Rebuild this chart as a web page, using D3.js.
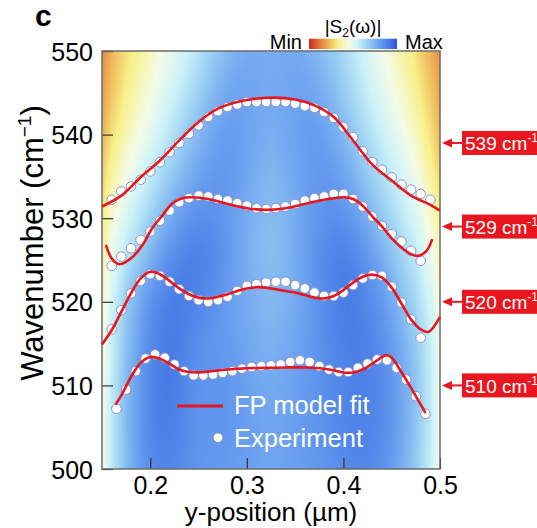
<!DOCTYPE html>
<html><head><meta charset="utf-8">
<script src="https://cdn.jsdelivr.net/npm/d3@7"></script>
<style>body{margin:0;background:#fff}svg{display:block;font-family:"Liberation Sans",Arial,sans-serif}</style>
</head><body><svg id="chart" width="537" height="528"></svg>
<script>
// ---------- data ----------
const xTicks = [0.2, 0.3, 0.4, 0.5];
const yTicks = [500, 510, 520, 530, 540, 550];
const modeLabels = [539, 529, 520, 510];

const exp539X = [0.16,0.17,0.18,0.19,0.20,0.21,0.22,0.23,0.24,0.25,0.26,0.27,0.28,0.29,0.30,0.31,0.32,0.33,0.34,0.35,0.36,0.37,0.38,0.39,0.40,0.41,0.42,0.43,0.44,0.45,0.46,0.47,0.48,0.49];
const exp539Y = [532.2,533.2,533.8,534.6,535.6,536.7,537.9,539.0,540.1,541.1,542.1,542.8,543.3,543.6,543.9,543.9,543.9,543.9,543.9,543.7,543.4,543.2,542.7,542.0,540.9,539.7,538.0,536.7,535.8,534.9,534.0,533.4,532.9,532.2];

const exp529X = [0.16,0.17,0.18,0.19,0.20,0.21,0.22,0.23,0.24,0.25,0.26,0.27,0.28,0.29,0.30,0.31,0.32,0.33,0.34,0.35,0.36,0.37,0.38,0.39,0.40,0.41,0.42,0.43,0.44,0.45,0.46,0.47,0.48];
const exp529Y = [524.3,525.4,526.4,527.4,528.4,529.7,530.9,531.9,532.4,532.7,532.6,532.3,532.1,531.8,531.5,531.2,531.1,531.2,531.4,531.7,532.1,532.4,532.6,532.9,532.9,532.3,531.4,530.2,529.1,528.1,527.2,526.1,524.9];

const exp520X = [0.16,0.17,0.18,0.19,0.20,0.21,0.22,0.23,0.24,0.25,0.26,0.27,0.28,0.29,0.30,0.31,0.32,0.33,0.34,0.35,0.36,0.37,0.38,0.39,0.40,0.41,0.42,0.43,0.44,0.45,0.46,0.47,0.48];
const exp520Y = [516.7,519.0,521.0,522.5,523.3,523.1,522.4,521.5,520.7,520.2,520.0,520.2,520.6,521.3,521.9,522.1,522.3,522.4,522.4,522.0,521.6,521.1,520.7,520.7,521.1,522.0,522.8,523.2,523.1,521.8,519.9,517.9,515.7];

const exp510X = [0.165,0.175,0.185,0.195,0.205,0.215,0.225,0.235,0.245,0.255,0.265,0.275,0.285,0.295,0.305,0.315,0.325,0.335,0.345,0.355,0.365,0.375,0.385,0.395,0.405,0.415,0.425,0.435,0.445,0.455,0.465,0.475,0.485];
const exp510Y = [507.2,509.5,511.7,513.2,513.7,513.3,512.5,511.7,511.2,511.2,511.3,511.5,511.7,512.0,512.2,512.3,512.4,512.5,512.8,513.0,512.8,512.3,511.9,511.6,511.6,512.1,512.6,513.1,513.0,512.1,510.7,508.7,506.6];

const fit539X = [0.15,0.17,0.19,0.21,0.23,0.25,0.27,0.29,0.32,0.35,0.37,0.39,0.41,0.43,0.45,0.47,0.49,0.50];
const fit539Y = [531.4,532.7,534.9,536.9,539.3,541.5,543.1,543.9,544.4,544.2,543.5,542.1,539.3,536.4,534.5,532.7,531.6,530.9];

const fit529X = [0.154,0.16,0.168,0.182,0.192,0.202,0.213,0.223,0.233,0.244,0.26,0.28,0.30,0.32,0.34,0.36,0.38,0.40,0.41,0.42,0.43,0.44,0.45,0.46,0.47,0.478,0.486,0.492];
const fit529Y = [526.8,525.2,524.5,525.4,526.8,528.8,530.4,531.8,532.4,532.5,532.3,531.7,531.2,531.0,531.2,531.7,532.2,532.5,532.3,531.5,530.2,529.0,527.6,526.5,525.7,525.5,526.1,527.5];

const fit520X = [0.15,0.16,0.17,0.18,0.19,0.20,0.21,0.22,0.23,0.24,0.25,0.26,0.27,0.28,0.29,0.30,0.31,0.32,0.33,0.34,0.35,0.36,0.37,0.38,0.39,0.40,0.41,0.42,0.43,0.44,0.45,0.46,0.47,0.48,0.488,0.50];
const fit520Y = [514.9,516.6,518.8,521.0,522.8,523.6,523.3,522.5,521.6,520.9,520.5,520.4,520.6,520.9,521.3,521.6,521.75,521.7,521.5,521.3,521.1,520.8,520.5,520.4,520.7,521.4,522.3,523.0,523.25,522.9,521.7,519.8,517.9,516.7,516.4,518.2];

const fit510X = [0.164,0.17,0.18,0.19,0.20,0.21,0.22,0.23,0.24,0.25,0.26,0.28,0.30,0.32,0.34,0.36,0.38,0.39,0.40,0.41,0.42,0.43,0.44,0.445,0.45,0.46,0.47,0.48,0.485];
const fit510Y = [507.7,508.8,511.0,512.7,513.4,513.2,512.6,511.9,511.6,511.55,511.65,511.9,512.05,512.1,512.15,512.15,512.0,511.8,511.55,511.55,511.9,512.6,513.4,513.6,513.3,511.6,509.7,507.7,506.7];

// background |S2(w)| map (0 = Min, 1 = Max), rows from 550 down to 500
const mapX = [0.15,0.16,0.175,0.2,0.225,0.25,0.275,0.3,0.325,0.35,0.375,0.4,0.425,0.45,0.475,0.49,0.5];
const mapY = [550,545,540,535,530,525,520,515,510,505,500];
const mapV = [
 [.15,.22,.30,.40,.50,.60,.72,.78,.76,.78,.74,.64,.52,.42,.30,.22,.16],
 [.18,.25,.33,.44,.55,.66,.78,.80,.76,.80,.78,.68,.56,.46,.34,.26,.20],
 [.22,.30,.38,.50,.62,.74,.82,.80,.74,.80,.82,.74,.62,.52,.40,.30,.24],
 [.27,.36,.45,.58,.70,.80,.84,.78,.72,.78,.84,.80,.68,.58,.46,.36,.28],
 [.32,.42,.52,.66,.80,.86,.84,.76,.70,.76,.84,.86,.76,.64,.52,.42,.34],
 [.36,.48,.60,.76,.88,.92,.84,.76,.70,.76,.86,.92,.84,.72,.58,.48,.40],
 [.40,.54,.68,.86,.92,.88,.82,.76,.72,.76,.84,.92,.88,.78,.64,.54,.44],
 [.42,.56,.70,.88,.92,.84,.82,.78,.74,.78,.84,.90,.90,.82,.68,.56,.46],
 [.44,.58,.72,.90,.92,.82,.84,.80,.76,.80,.84,.88,.90,.84,.70,.58,.46],
 [.44,.58,.72,.90,.90,.82,.84,.80,.78,.80,.84,.88,.90,.84,.70,.58,.46],
 [.44,.58,.72,.88,.88,.82,.82,.80,.78,.80,.82,.86,.88,.82,.68,.56,.46]
];
const cmapStops = [0, 0.12, 0.25, 0.33, 0.45, 0.55, 0.68, 0.80, 0.90, 1];
const cmapColors = ["#cc2a22","#e27a3a","#f0c262","#f8f08a","#f4fbe6","#cdf3f8","#95cbf2","#6a9ff0","#4a7ee6","#2c50e0"];

// ---------- chart ----------
const svg = d3.select("#chart");
const L = 102, R = 440, T = 51, B = 469;
const x = d3.scaleLinear().domain([0.15, 0.5]).range([L, R]);
const y = d3.scaleLinear().domain([500, 550]).range([B, T]);
const cmap = d3.scaleLinear().domain(cmapStops).range(cmapColors).clamp(true);
const red = "#e8161e";

// heatmap
(function(){
  const cw = R - L, ch = B - T;
  const cv = document.createElement("canvas"); cv.width = cw; cv.height = ch;
  const ctx = cv.getContext("2d"); const img = ctx.createImageData(cw, ch);
  const xi = d3.scaleLinear().domain(mapX).range(d3.range(mapX.length)).clamp(true);
  const yi = d3.scaleLinear().domain(mapY).range(d3.range(mapY.length)).clamp(true);
  const rows = mapV.map(r => d3.interpolateBasis(r));
  for (let px = 0; px < cw; px++) {
    const tx = xi(x.invert(L + px + 0.5)) / (mapX.length - 1);
    const col = d3.interpolateBasis(rows.map(f => f(tx)));
    for (let py = 0; py < ch; py++) {
      const ty = yi(y.invert(T + py + 0.5)) / (mapY.length - 1);
      const c = d3.rgb(cmap(col(ty)));
      const k = (py * cw + px) * 4;
      img.data[k] = c.r; img.data[k+1] = c.g; img.data[k+2] = c.b; img.data[k+3] = 255;
    }
  }
  ctx.putImageData(img, 0, 0);
  svg.append("image").attr("x", L).attr("y", T).attr("width", cw).attr("height", ch)
     .attr("preserveAspectRatio", "none").attr("href", cv.toDataURL());
})();

// axes
const gy = svg.append("g").attr("transform", `translate(${L},0)`)
  .call(d3.axisLeft(y).tickValues(yTicks).tickSize(-11).tickPadding(9));
const gx = svg.append("g").attr("transform", `translate(0,${B})`)
  .call(d3.axisBottom(x).tickValues(xTicks).tickFormat(d3.format(".1f")).tickSize(-11).tickPadding(7));
[gx, gy].forEach(g => {
  g.select(".domain").remove();
  g.selectAll(".tick line").attr("stroke", "#333").attr("stroke-width", 1.2);
  g.selectAll(".tick text").attr("fill", "#000").style("font-size", "25px")
   .style("font-family", '"Liberation Sans",Arial,sans-serif');
});
gy.selectAll(".tick text").attr("dy", "0.36em");

svg.append("rect").attr("x", L).attr("y", T).attr("width", R - L).attr("height", B - T)
  .attr("fill", "none").attr("stroke", "#6b6b6b").attr("stroke-width", 1.5);

// experiment points
const expSets = [[exp539X, exp539Y], [exp529X, exp529Y], [exp520X, exp520Y], [exp510X, exp510Y]];
expSets.forEach(([xs, ys]) => {
  svg.append("g").selectAll("circle").data(xs.map((d, i) => [d, ys[i]])).join("circle")
    .attr("cx", d => x(d[0])).attr("cy", d => y(d[1])).attr("r", 4.8)
    .attr("fill", "#fff").attr("stroke", "#8a96c6").attr("stroke-width", 1);
});

// fits
const line = d3.line().x(d => x(d[0])).y(d => y(d[1])).curve(d3.curveCatmullRom.alpha(0.5));
const fitSets = [[fit539X, fit539Y], [fit529X, fit529Y], [fit520X, fit520Y], [fit510X, fit510Y]];
fitSets.forEach(([xs, ys]) => {
  svg.append("path").datum(xs.map((d, i) => [d, ys[i]])).attr("d", line)
    .attr("fill", "none").attr("stroke", red).attr("stroke-width", 2.6);
});

// legend
svg.append("line").attr("x1", 177).attr("x2", 223).attr("y1", 406).attr("y2", 406)
  .attr("stroke", red).attr("stroke-width", 3);
svg.append("text").attr("x", 234).attr("y", 414).attr("fill", "#fff").style("font-size", "25.5px").text("FP model fit");
svg.append("circle").attr("cx", 218).attr("cy", 437.7).attr("r", 4.8).attr("fill", "#fff").attr("stroke", "#8a96c6");
svg.append("text").attr("x", 234).attr("y", 446.7).attr("fill", "#fff").style("font-size", "25.5px").text("Experiment");

// right mode labels
modeLabels.forEach(v => {
  const yy = y(v);
  const g = svg.append("g");
  g.append("line").attr("x1", 451).attr("x2", 463).attr("y1", yy).attr("y2", yy).attr("stroke", red).attr("stroke-width", 2);
  g.append("path").attr("d", `M442,${yy}L452,${yy-4.5}L452,${yy+4.5}Z`).attr("fill", red);
  g.append("rect").attr("x", 462).attr("y", yy - 12).attr("width", 90).attr("height", 24).attr("fill", red);
  const t = g.append("text").attr("x", 465).attr("y", yy + 7.5).attr("fill", "#fff").style("font-size", "19px");
  t.append("tspan").text(v + " cm");
  t.append("tspan").attr("dy", -8).style("font-size", "12px").text("-1");
});

// axis titles
svg.append("text").attr("x", 271).attr("y", 521).attr("text-anchor", "middle").style("font-size", "26px").text("y-position (µm)");
const yt = svg.append("text").attr("transform", "translate(43,243) rotate(-90)").attr("text-anchor", "middle").style("font-size", "31px");
yt.append("tspan").text("Wavenumber (cm");
yt.append("tspan").attr("dy", -12).style("font-size", "19px").text("−1");
yt.append("tspan").attr("dy", 12).text(")");

// panel letter
svg.append("text").attr("x", 35).attr("y", 26).style("font-size", "30px").style("font-weight", "bold").text("c");

// colorbar
const grad = svg.append("defs").append("linearGradient").attr("id", "cbar");
cmapStops.forEach((s, i) => grad.append("stop").attr("offset", s).attr("stop-color", cmapColors[i]));
svg.append("rect").attr("x", 309).attr("y", 38.7).attr("width", 88).attr("height", 10.3).attr("fill", "url(#cbar)");
svg.append("text").attr("x", 302).attr("y", 49).attr("text-anchor", "end").style("font-size", "20px").text("Min");
svg.append("text").attr("x", 405).attr("y", 49).style("font-size", "20px").text("Max");
const ct = svg.append("text").attr("x", 353).attr("y", 33).attr("text-anchor", "middle").style("font-size", "19px");
ct.append("tspan").text("|S");
ct.append("tspan").attr("dy", 4).style("font-size", "12px").text("2");
ct.append("tspan").attr("dy", -4).text("(ω)|");
</script></body></html>
